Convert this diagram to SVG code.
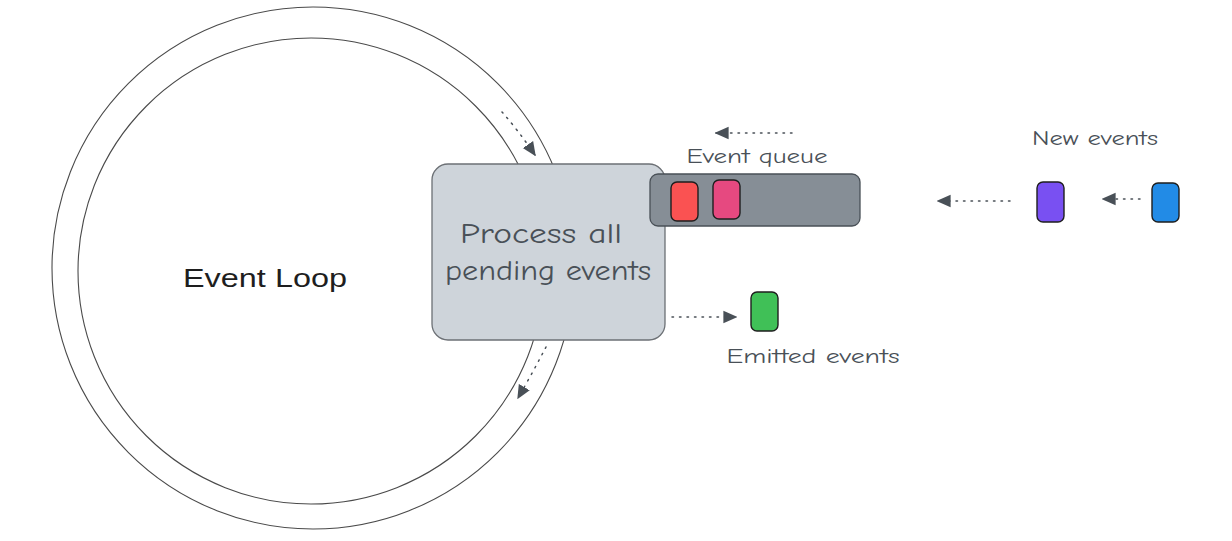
<svg xmlns="http://www.w3.org/2000/svg" width="1232" height="541" viewBox="0 0 1232 541">
<style>
.ring{fill:none;stroke:#4a4a4a;stroke-width:1.1}
.card{stroke:#1e1e1e;stroke-width:1.4}
.lbl{font-family:"Comic Neue","Liberation Sans",sans-serif;fill:#495057}
.conn{fill:none;stroke:#495057;stroke-width:1.5;stroke-dasharray:1.5 6;stroke-linecap:round}
</style>
<defs>
<marker id="ah" viewBox="0 0 10 10" refX="9" refY="5" markerWidth="14" markerHeight="14" markerUnits="userSpaceOnUse" orient="auto">
<path d="M0,0.5 L10,5 L0,9.5 Z" fill="#495057"/>
</marker>
</defs>
<rect width="1232" height="541" fill="#ffffff"/>
<g id="loop">
<circle class="ring" cx="313" cy="268" r="261"/>
<circle class="ring" cx="311" cy="271" r="233"/>
<text x="265" y="287" text-anchor="middle" font-family="Liberation Sans,sans-serif" font-size="26" fill="#1e1e1e" textLength="164" lengthAdjust="spacingAndGlyphs">Event Loop</text>
</g>
<g id="process">
<rect x="432" y="164" width="233" height="176" rx="16" fill="#ced4da" stroke="#6c7075" stroke-width="1.3"/>
<text class="lbl" x="541" y="243" text-anchor="middle" font-size="28" textLength="162" lengthAdjust="spacingAndGlyphs">Process all</text>
<text class="lbl" x="548" y="280" text-anchor="middle" font-size="28" textLength="206" lengthAdjust="spacingAndGlyphs">pending events</text>
</g>
<g id="queue">
<rect x="650" y="174" width="210" height="52" rx="8" fill="#868e96" stroke="#495057" stroke-width="1.3"/>
<text class="lbl" x="757" y="163" text-anchor="middle" font-size="20" textLength="141" lengthAdjust="spacingAndGlyphs">Event queue</text>
</g>
<g id="event-red"><rect class="card" x="671" y="182" width="27" height="39" rx="6" fill="#fa5252"/></g>
<g id="event-pink"><rect class="card" x="713" y="180" width="27" height="39" rx="6" fill="#e64980"/></g>
<g id="event-purple"><rect class="card" x="1037" y="182" width="27" height="40" rx="6" fill="#7950f2"/></g>
<g id="event-blue"><rect class="card" x="1152" y="183" width="27" height="39" rx="6" fill="#228be6"/></g>
<g id="event-green"><rect class="card" x="751" y="292" width="27" height="39" rx="6" fill="#40c057"/></g>
<g id="new-events-label"><text class="lbl" x="1095" y="145" text-anchor="middle" font-size="20" textLength="126" lengthAdjust="spacingAndGlyphs">New events</text></g>
<g id="emitted-label"><text class="lbl" x="813" y="363" text-anchor="middle" font-size="20" textLength="173" lengthAdjust="spacingAndGlyphs">Emitted events</text></g>
<g id="connectors">
<path class="conn" d="M502,112 Q518,130 535,155" marker-end="url(#ah)"/>
<path class="conn" d="M546,347 Q533,372 518,398" marker-end="url(#ah)"/>
<path class="conn" d="M792,133 L716,133" marker-end="url(#ah)"/>
<path class="conn" d="M1010,201 L938,201" marker-end="url(#ah)"/>
<path class="conn" d="M1140,199 L1103,199" marker-end="url(#ah)"/>
<path class="conn" d="M672,317 L736,317" marker-end="url(#ah)"/>
</g>
</svg>
